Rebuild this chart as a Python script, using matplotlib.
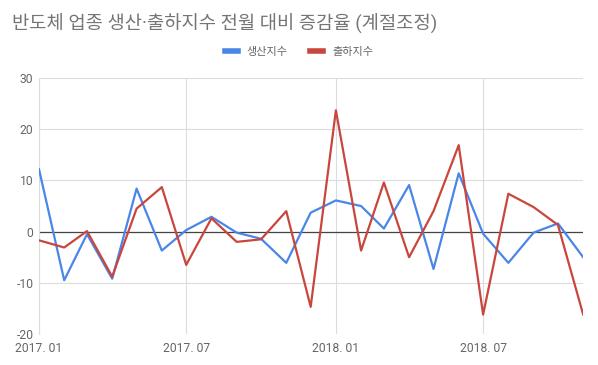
import datetime as dt
import matplotlib
matplotlib.use('Agg')
import matplotlib.pyplot as plt

plt.rcParams['font.family'] = ['Roboto', 'Noto Sans CJK KR', 'DejaVu Sans']
plt.rcParams['axes.unicode_minus'] = False

# monthly data, 2017.01 - 2018.11
months = [dt.date(2017 + (i // 12), i % 12 + 1, 1) for i in range(23)]
production = [12.2, -9.5, -0.5, -9.2, 8.4, -3.7, 0.3, 2.9, -0.2, -1.4, -6.1, 3.7,
              6.1, 5.0, 0.6, 9.1, -7.3, 11.4, -0.4, -6.1, -0.2, 1.6, -5.0]
shipment = [-1.7, -3.1, 0.1, -8.8, 4.5, 8.7, -6.5, 2.6, -2.0, -1.5, 4.0, -14.7,
            23.7, -3.7, 9.6, -5.0, 4.0, 16.9, -16.2, 7.4, 4.8, 1.3, -16.2]
tick_dates = [dt.date(2017, 1, 1), dt.date(2017, 7, 1), dt.date(2018, 1, 1), dt.date(2018, 7, 1)]
tick_labels = ['2017. 01', '2017. 07', '2018. 01', '2018. 07']

fig = plt.figure(figsize=(5.98, 3.65), dpi=100)
ax = fig.add_axes([0.0652, 0.085, 0.910, 0.701])

ax.plot(months, production, color='#4a86e8', lw=1.6, label='생산지수', zorder=3)
ax.plot(months, shipment, color='#c9463d', lw=1.6, label='출하지수', zorder=3)
ax.axhline(0, color='#444444', lw=0.9, zorder=2)

ax.set_xlim(months[0], months[-1])
ax.set_ylim(-20, 30)
ax.set_yticks([-20, -10, 0, 10, 20, 30])
ax.set_xticks(tick_dates)
ax.set_xticklabels(tick_labels)
ax.grid(True, color='#dcdcdc', lw=0.8, zorder=1)
for s in ['top', 'right', 'bottom']:
    ax.spines[s].set_visible(False)
ax.spines['left'].set_color('#dcdcdc')
ax.tick_params(length=0, colors='#666666', labelsize=8.7)
ax.tick_params(axis='x', pad=6)
ax.tick_params(axis='y', pad=4)

fig.text(0.02, 0.935, '반도체 업종 생산·출하지수 전월 대비 증감율 (계절조정)',
         fontsize=13.5, color='#757575', va='center')
fig.legend(loc='center', bbox_to_anchor=(0.5, 0.857), ncol=2, frameon=False,
           fontsize=8, handlelength=1.2, handletextpad=0.8, columnspacing=2.0,
           labelcolor='#666666')
for h in fig.legends[0].legend_handles:
    h.set_linewidth(4)

fig.savefig('out.png', dpi=100)
